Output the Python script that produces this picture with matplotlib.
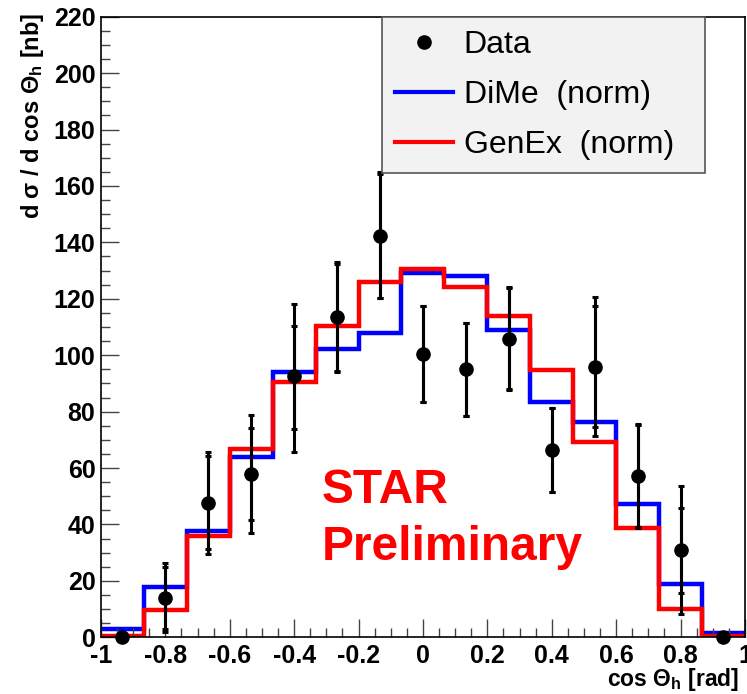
import matplotlib
matplotlib.use("Agg")
import matplotlib.pyplot as plt
from matplotlib.lines import Line2D
from matplotlib.ticker import MultipleLocator
import numpy as np

# bin edges of cos(theta_h), 15 bins between -1 and 1
edges = np.linspace(-1, 1, 16)
centers = 0.5 * (edges[:-1] + edges[1:])

dime = [2.8, 17.9, 37.7, 64.0, 94.2, 102.2, 108.0, 129.3, 128.1, 108.9, 83.3, 76.4, 47.3, 18.8, 1.4]
genex = [0.4, 9.7, 35.9, 66.6, 90.6, 110.3, 125.8, 130.5, 124.1, 114.0, 94.8, 69.3, 38.9, 10.0, 0.3]

data = [0.0, 14.0, 47.5, 57.9, 92.6, 113.4, 142.4, 100.4, 95.1, 105.9, 66.4, 95.9, 57.2, 30.9, 0.0]
# statistical errors (inner caps) and total errors (outer caps)
stat_up = [0.0, 11.0, 16.8, 16.4, 17.9, 19.0, 22.0, 17.1, 16.2, 18.0, 15.0, 21.5, 18.0, 15.0, 0.0]
stat_dn = [0.0, 11.1, 16.1, 16.3, 18.9, 19.0, 22.0, 17.1, 16.5, 18.0, 15.0, 21.2, 18.0, 15.1, 0.0]
tot_up = [0.0, 12.4, 18.3, 20.9, 25.6, 19.5, 22.4, 17.1, 16.2, 18.4, 15.0, 24.6, 18.4, 22.8, 0.0]
tot_dn = [0.0, 12.2, 18.1, 21.0, 26.8, 19.5, 22.2, 17.1, 16.5, 18.2, 15.0, 24.4, 18.6, 22.6, 0.0]

xticks = [-1, -0.8, -0.6, -0.4, -0.2, 0, 0.2, 0.4, 0.6, 0.8, 1]
xtick_labels = ["-1", "-0.8", "-0.6", "-0.4", "-0.2", "0", "0.2", "0.4", "0.6", "0.8", "1"]
legend_labels = ["Data", "DiMe  (norm)", "GenEx  (norm)"]

FONT = "Liberation Sans"
plt.rcParams["font.family"] = [FONT, "DejaVu Sans"]
plt.rcParams["mathtext.fontset"] = "custom"
plt.rcParams["mathtext.rm"] = FONT
plt.rcParams["mathtext.bf"] = FONT + ":bold"

fig = plt.figure(figsize=(7.47, 6.94), dpi=100)
ax = fig.add_axes([0.1352, 0.0817, 0.862, 0.8943])

ax.stairs(dime, edges, baseline=None, color="#0000ff", lw=3.2)
ax.stairs(genex, edges, baseline=None, color="#ff0000", lw=3.2)

mask = np.array(data) > 0
c = centers[mask]
d = np.array(data)[mask]
ax.errorbar(c, d, yerr=[np.array(tot_dn)[mask], np.array(tot_up)[mask]],
            fmt="none", ecolor="black", elinewidth=2.2, capsize=2.5, capthick=2.2)
ax.errorbar(c, d, yerr=[np.array(stat_dn)[mask], np.array(stat_up)[mask]],
            fmt="none", ecolor="black", elinewidth=2.2, capsize=2.5, capthick=2.2)
ax.plot(centers, data, "o", color="black", ms=9.5, clip_on=False, zorder=5)

ax.set_xlim(-1, 1)
ax.set_ylim(0, 220)
ax.set_xticks(xticks)
ax.set_xticklabels(xtick_labels)
ax.xaxis.set_minor_locator(MultipleLocator(0.05))
ax.yaxis.set_major_locator(MultipleLocator(20))
ax.yaxis.set_minor_locator(MultipleLocator(5))
ax.tick_params(which="both", direction="in", top=False, right=False, color="#444444")
ax.tick_params(which="major", length=13, width=1)
ax.tick_params(which="minor", length=6.5, width=1)
ax.tick_params(axis="x", pad=4.5)
ax.tick_params(axis="y", pad=4)
for lab in ax.get_xticklabels() + ax.get_yticklabels():
    lab.set_fontsize(18)
    lab.set_fontweight("bold")
for sp in ax.spines.values():
    sp.set_linewidth(1.2)

fig.text(0.989, 0.012, r"cos $\mathbf{\Theta_h}$ [rad]", ha="right", va="baseline",
         fontsize=16.5, fontweight="bold")
fig.text(0.044, 0.981, r"d $\mathbf{\sigma}$ / d cos $\mathbf{\Theta_h}$ [nb]", ha="center",
         va="top", rotation=90, fontsize=17, fontweight="bold")

ax.text(-0.314, 47.6, "STAR", color="#ff0000", fontsize=34.5, fontweight="bold",
        ha="left", va="baseline")
ax.text(-0.314, 27.4, "Preliminary", color="#ff0000", fontsize=34.5, fontweight="bold",
        ha="left", va="baseline")

handles = [
    Line2D([], [], marker="o", color="black", ls="none", ms=9.5),
    Line2D([], [], color="#0000ff", lw=3),
    Line2D([], [], color="#ff0000", lw=3),
]
leg = ax.legend(handles, legend_labels,
                loc="upper left", bbox_to_anchor=(0.436, 0.0, 0.502, 1.0), mode="expand",
                borderaxespad=0, fontsize=23, frameon=True, fancybox=False, framealpha=1,
                facecolor="#f2f2f2", edgecolor="#555555", handlelength=1.8,
                handletextpad=0.35, labelspacing=0.62, borderpad=0.42)
leg.get_frame().set_linewidth(1.2)

fig.savefig("out.png", dpi=100)
